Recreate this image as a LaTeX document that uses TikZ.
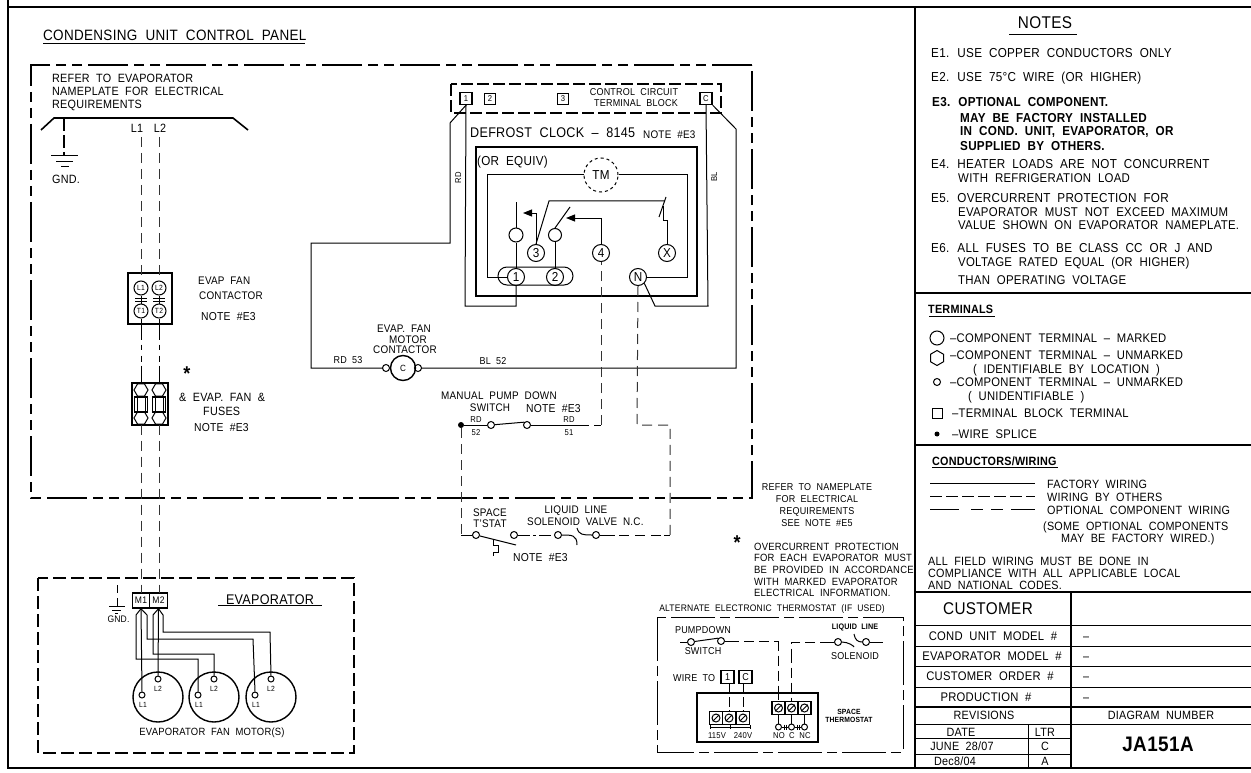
\documentclass[tikz,border=0pt]{standalone}
\usepackage{fontspec}
\setmainfont[FakeStretch=.9,LetterSpace=2,WordSpace=2]{Liberation Sans}
\usetikzlibrary{shapes.geometric,arrows.meta}
\tikzset{
  lbl/.style={inner sep=0pt,text height=8.6pt,text depth=0pt,font=\fontsize{12}{12}\selectfont},
  lblw/.style={lbl,anchor=west},
  tiny/.style={inner sep=0pt,text height=6pt,text depth=0pt,font=\fontsize{8.5}{9}\selectfont},
  note/.style={inner sep=0pt,anchor=west,text height=9.3pt,text depth=0pt,font=\fontsize{13}{13}\selectfont},
  big/.style={inner sep=0pt,text height=12pt,text depth=0pt,font=\fontsize{17}{17}\selectfont},
  frame/.style={line width=2.2pt},
  wire/.style={line width=1pt},
  field/.style={line width=1pt,black!80,dash pattern=on 10pt off 6pt},
  panel/.style={line width=2.4pt,dash pattern=on 40pt off 6pt on 10pt off 6pt on 10pt off 6pt},
  unit/.style={line width=2.2pt,dash pattern=on 13pt off 5pt},
  term/.style={circle,draw,line width=1pt,inner sep=0pt,minimum size=17pt,font=\fontsize{13}{13}\selectfont},
  stud/.style={circle,draw,line width=1pt,inner sep=0pt,minimum size=7pt},
  lug/.style={circle,draw,line width=1pt,inner sep=0pt,minimum size=14pt,font=\fontsize{7.5}{8}\selectfont},
  tbox/.style={rectangle,draw,line width=1.4pt,inner sep=0pt,minimum size=12pt,font=\fontsize{8.5}{9}\selectfont},
  hexa/.style={regular polygon,regular polygon sides=6,draw,line width=1pt,inner sep=0pt,minimum size=14pt},
  motor/.style={circle,draw,line width=1.4pt,inner sep=0pt,minimum size=50pt},
}
\begin{document}
\begin{tikzpicture}[x=1pt,y=-1pt]
  \useasboundingbox (0,0) rectangle (1251,773);

  % Sheet frame and title block rules.
  \draw[frame] (8,0) -- (8,768) -- (1251,768);
  \draw[frame] (8,7) -- (1251,7);
  \draw[frame] (915,7) -- (915,768);
  \draw[frame] (915,293) -- (1251,293);
  \draw[frame] (915,445) -- (1251,445);
  \draw[frame] (915,592) -- (1251,592);
  \draw[frame] (1071,592) -- (1071,768);
  \draw[frame] (915,707) -- (1251,707);
  \foreach \y in {625,646,666,687} {
    \draw[wire] (915,\y) -- (1251,\y);
  }
  \draw[wire] (915,724) -- (1251,724);
  \draw[wire] (915,738) -- (1071,738);
  \draw[wire] (915,754) -- (1071,754);
  \draw[wire] (1028,724) -- (1028,768);

  % Control panel boundary.
  \node[inner sep=0pt,anchor=west,text height=10.5pt,text depth=0pt,font=\fontsize{15}{15}\selectfont] (paneltitle) at (43,35) {CONDENSING UNIT CONTROL PANEL};
  \draw[wire] (43,44) -- (305,44);
  \draw[panel] (752,65) -- (31,65) -- (31,498) -- (752,498) -- cycle;
  \node[lblw] (refer1) at (52,78) {REFER TO EVAPORATOR};
  \node[lblw] (refer2) at (52,91) {NAMEPLATE FOR ELECTRICAL};
  \node[lblw] (refer3) at (52,104) {REQUIREMENTS};

  % Supply lines and ground.
  \draw[line width=1.6pt] (41,130) -- (54,118) -- (233,118) -- (248,130);
  \coordinate (supply) at (64,118);
  \coordinate (earth) at (64,156);
  \draw[line width=1.6pt,dash pattern=on 13pt off 4pt] (supply) -- (earth);
  \draw[wire] (51,156) -- (78,156);
  \draw[wire] (56,162) -- (73,162);
  \draw[wire] (61,167) -- (69,167);
  \node[lbl] (gnd) at (66,179) {GND.};
  \node[lbl] (l1) at (137,128) {L1};
  \node[lbl] (l2) at (160,128) {L2};
  \coordinate (feedA) at (141,137);
  \coordinate (feedB) at (159,137);

  % Fan contactor.
  \draw[line width=1.4pt] (128,273) rectangle (172,324);
  \node[lug] (cL1) at (141,288) {L1};
  \node[lug] (cL2) at (159,288) {L2};
  \node[lug] (cT1) at (141,311) {T1};
  \node[lug] (cT2) at (159,311) {T2};
  \draw[wire] (cL1) -- (cT1);
  \draw[wire] (cL2) -- (cT2);
  \foreach \x in {141,159} {
    \draw[wire] (\x-6,298) -- (\x+6,298);
    \draw[wire] (\x-6,301) -- (\x+6,301);
  }
  \draw[field] (feedA) -- (cL1.north);
  \draw[field] (feedB) -- (cL2.north);
  \node[lblw,font=\fontsize{11}{11}\selectfont] (ct1) at (198,280) {EVAP FAN};
  \node[lblw,font=\fontsize{11}{11}\selectfont] (ct2) at (199,295) {CONTACTOR};
  \node[lblw,font=\fontsize{11.5}{12}\selectfont] (ct3) at (201,316) {NOTE \#E3};

  % Fuse block.
  \draw[line width=1.6pt] (132,383) rectangle (168,425);
  \foreach \n/\x in {A/141,B/159} {
    \node[hexa] (hexT\n) at (\x,390) {};
    \node[hexa] (hexB\n) at (\x,418) {};
    \draw[line width=1.4pt] (\x-6.5,397) rectangle (\x+6.5,412);
    \draw[line width=.6pt] (\x-4,397) rectangle (\x+4,412);
    \draw[wire,dash pattern=on 21pt off 5pt on 5pt off 6pt on 6pt off 4pt on 30pt] (c\ifnum\x=141 T1\else T2\fi.south) -- (hexT\n.north);
  }
  \node[lbl,font=\fontsize{20}{20}\selectfont\bfseries] (starA) at (187,376) {*};
  \node[lblw] (fu1) at (179,397) {\& EVAP. FAN \&};
  \node[lblw] (fu2) at (203,411) {FUSES};
  \node[lblw,font=\fontsize{11.5}{12}\selectfont] (fu3) at (194,427) {NOTE \#E3};

  % Clock terminal block.
  \draw[line width=2pt,dash pattern=on 12pt off 4pt] (451,84) rectangle (721,113);
  \node[tbox] (t1) at (466,98.5) {1};
  \node[tbox,minimum size=11pt,line width=1pt] (t2) at (490,99) {2};
  \node[tbox,minimum size=11pt,line width=1pt] (t3) at (563,99) {3};
  \node[tbox] (tC) at (706,98.5) {C};
  \node[tiny,font=\fontsize{10}{10}\selectfont] (blk1) at (634,93) {CONTROL CIRCUIT};
  \node[tiny,font=\fontsize{10}{10}\selectfont] (blk2) at (636,104) {TERMINAL BLOCK};
  \node[inner sep=0pt,anchor=west,text height=9.5pt,text depth=0pt,font=\fontsize{14}{14}\selectfont] (clock) at (470,133) {DEFROST CLOCK -- 8145};
  \node[tiny,anchor=west,font=\fontsize{11}{11}\selectfont] (clocknote) at (643,136) {NOTE \#E3};
  \draw[line width=1.6pt] (476,147) rectangle (697,296);
  \node[note] (equiv) at (477,161) {(OR EQUIV)};

  % Timer and contacts inside the clock.
  \node[term,dashed,minimum size=34pt,font=\fontsize{13}{13}\selectfont] (tm) at (601,175) {TM};
  \node[term] (p1) at (516,277) {1};
  \node[term] (p2) at (555,277) {2};
  \node[term] (p3) at (536,253) {3};
  \node[term] (p4) at (601,253) {4};
  \node[term] (pX) at (667,253) {X};
  \node[term] (pN) at (638,277) {N};
  \node[stud,minimum size=14pt] (s1) at (516,235) {};
  \node[stud,minimum size=13pt] (s2) at (555,235) {};
  \draw[wire,rounded corners=9pt] (498,267) rectangle (573,285);
  \draw[wire] (tm.west) -- (487,175) |- (p1.west);
  \draw[wire] (tm.east) -- (687,175) |- (pN.east);
  \draw[wire] (p1.north) -- (s1.south);
  \draw[wire] (p2.north) -- (s2.south);
  \draw[wire] (s1.north) -- (516,202);
  \draw[wire] (s2.north) -- (570,207);
  \draw[wire,-{Triangle[length=9pt,width=7pt]}] (p3.north) -- (536,213) -- (523,213);
  \draw[wire] (p3.north) -- (549,201) -- (665,201);
  \draw[wire] (666,197) -- (659,217);
  \draw[wire] (663,206) -- (663,220) -- (667,220) -- (pX.north);
  \draw[wire,-{Triangle[length=9pt,width=7pt]}] (p4.north) |- (566,218);

  % Factory wiring to the terminal block.
  \draw[wire] (t1.south) -- (450,123) -- (450,243) -- (311,243) -- (311,368) -- (383,368);
  \draw[wire] (t1.south) -- (465,306) -- (516,306) -- (p1.south);
  \draw[wire] (tC.south) -- (708,306) -- (655,306) -- (pN.south east);
  \draw[wire] (tC.south east) -- (736,129) -- (736,368) -- (421,368);
  \node[tiny,rotate=90] (rdA) at (458,178) {RD};
  \node[tiny,rotate=90] (blA) at (714,177) {BL};

  % Motor contactor.
  \node[stud] (cmA) at (386,368) {};
  \node[stud] (cmB) at (418,368) {};
  \node[circle,draw,line width=1.4pt,inner sep=0pt,minimum size=25pt,font=\fontsize{9}{9}\selectfont] (cm) at (403,368) {C};
  \node[lbl,font=\fontsize{11}{11}\selectfont] (cm1) at (404,328) {EVAP. FAN};
  \node[lbl,font=\fontsize{11}{11}\selectfont] (cm2) at (408,339) {MOTOR};
  \node[lbl,font=\fontsize{11}{11}\selectfont] (cm3) at (405,349) {CONTACTOR};
  \node[tiny,font=\fontsize{10}{10}\selectfont] (rd53) at (348,360) {RD 53};
  \node[tiny,font=\fontsize{10}{10}\selectfont] (bl52) at (493,361) {BL 52};

  % Pump down switch and field wiring.
  \node[circle,fill,inner sep=0pt,minimum size=6pt] (splice) at (461,425) {};
  \node[stud] (sw1) at (491,425) {};
  \node[stud] (sw2) at (527,425) {};
  \coordinate (bend4) at (601,425);
  \coordinate (bendN) at (637,425);
  \coordinate (bendR) at (670,425);
  \draw[wire] (splice) -- (sw1);
  \draw[wire] (sw1) -- (sw2.north west);
  \draw[wire,dash pattern=on 58pt off 5pt on 10pt off 6pt] (sw2) -- (bend4);
  \draw[field] (bend4) -- (p4.south);
  \draw[field] (pN.south) -- (bendN) -- (bendR) -- (670,535);
  \node[lblw,font=\fontsize{11}{11}\selectfont] (mp1) at (441,395) {MANUAL PUMP DOWN};
  \node[lbl,font=\fontsize{11}{11}\selectfont] (mp2) at (490,407) {SWITCH};
  \node[lblw,font=\fontsize{11.5}{12}\selectfont] (mp3) at (526,408) {NOTE \#E3};
  \node[tiny] (rdB) at (476,419) {RD};
  \node[tiny] (rdC) at (569,419) {RD};
  \node[tiny] (n52) at (476,432) {52};
  \node[tiny] (n51) at (569,432) {51};

  % Space thermostat and liquid line solenoid.
  \coordinate (tsL) at (461,535);
  \node[stud] (ts1) at (476,535) {};
  \node[stud] (ts2) at (514,535) {};
  \node[stud] (ls1) at (558,535) {};
  \node[stud] (ls2) at (596,535) {};
  \draw[field] (splice) -- (tsL);
  \draw[wire] (tsL) -- (ts1);
  \draw[wire] (ts1) -- (516,545);
  \draw[wire] (493,540) -- (493,545) -- (498,545) -- (498,552) -- (493,552) -- (493,556);
  \draw[wire,dash pattern=on 12pt off 3pt on 3pt off 3pt] (ts2) -- (ls1);
  \draw[wire] (ls1) .. controls (572,535) and (577,535) .. (577,545);
  \draw[wire] (577,528) .. controls (579,535) and (583,535) .. (ls2);
  \draw[wire,dash pattern=on 15pt off 4pt on 10pt off 6pt on 10pt off 6pt on 10pt off 3pt on 10pt] (ls2) -- (670,535);
  \node[lbl,font=\fontsize{11}{11}\selectfont] (ts3) at (490,512) {SPACE};
  \node[lbl,font=\fontsize{11}{11}\selectfont] (ts4) at (490,523) {T'STAT};
  \node[lbl,font=\fontsize{11}{11}\selectfont] (ls3) at (576,509) {LIQUID LINE};
  \node[lblw,font=\fontsize{11}{11}\selectfont] (ls4) at (527,521) {SOLENOID VALVE N.C.};
  \node[lblw,font=\fontsize{11.5}{12}\selectfont] (ts5) at (513,557) {NOTE \#E3};

  % Nameplate and overcurrent notes.
  \foreach \i/\y/\t in {1/486/REFER TO NAMEPLATE,2/498/FOR ELECTRICAL,3/510/REQUIREMENTS,4/522/SEE NOTE \#E5} {
    \node[lbl,font=\fontsize{10}{10}\selectfont] (plate\i) at (817,\y) {\t};
  }
  \node[lbl,font=\fontsize{20}{20}\selectfont\bfseries] (starB) at (737,545) {*};
  \foreach \i/\y/\t in {1/546/OVERCURRENT PROTECTION,2/557/FOR EACH EVAPORATOR MUST,3/569/BE PROVIDED IN ACCORDANCE,4/581/WITH MARKED EVAPORATOR,5/592/ELECTRICAL INFORMATION.} {
    \node[lblw,font=\fontsize{10.5}{11}\selectfont] (over\i) at (754,\y) {\t};
  }

  % Evaporator.
  \draw[unit] (38,578) rectangle (354,753);
  \node[big,font=\fontsize{14}{14}\selectfont] (evap) at (270,598) {EVAPORATOR};
  \draw[wire] (218,605) -- (322,605);
  \node[tbox,minimum width=17pt,minimum height=15pt,font=\fontsize{9.5}{10}\selectfont] (m1) at (141,600.5) {M1};
  \node[tbox,minimum width=18pt,minimum height=15pt,font=\fontsize{9.5}{10}\selectfont] (m2) at (158.5,600.5) {M2};
  \foreach \n/\x in {A/141,B/159} {
    \draw[field] (hexB\n.south) -- (\x,593);
  }
  \coordinate (gndB) at (117,606);
  \draw[wire,dash pattern=on 8pt off 5pt] (117,585) -- (gndB);
  \draw[wire] (109,606) -- (125,606);
  \draw[wire] (112,610) -- (121,610);
  \draw[wire] (115,613) -- (118,613);
  \node[tiny,font=\fontsize{9.5}{10}\selectfont] (gndC) at (118.5,619) {GND.};
  \foreach \n/\x in {1/158,2/214,3/271} {
    \node[motor] (mot\n) at (\x,697) {};
    \node[stud,minimum size=6pt] (mot\n l1) at (\x-16,695) {};
    \node[stud,minimum size=6pt] (mot\n l2) at (\x,679) {};
    \node[tiny,font=\fontsize{7.5}{8}\selectfont] (lab\n a) at (\x-15,704) {L1};
    \node[tiny,font=\fontsize{7.5}{8}\selectfont] (lab\n b) at (\x,688) {L2};
  }
  \draw[wire] (m1.south) -- (136,615) -- (136,659) -- (198,659) -- (mot2l1.north);
  \draw[wire] (m1.south) -- (mot1l1.north);
  \draw[wire] (m1.south) -- (147,615) -- (147,639) -- (253,639) -- (mot3l1.north);
  \draw[wire] (m2.south) -- (153,615) -- (153,654) -- (214,654) -- (mot2l2.north);
  \draw[wire] (m2.south) -- (mot1l2.north);
  \draw[wire] (m2.south) -- (163,615) -- (163,632) -- (270,632) -- (mot3l2.north);
  \node[lbl,font=\fontsize{10.5}{11}\selectfont] (fans) at (212,731) {EVAPORATOR FAN MOTOR(S)};

  % Alternate thermostat.
  \node[lbl,font=\fontsize{9.5}{10}\selectfont] (alt) at (772,607) {ALTERNATE ELECTRONIC THERMOSTAT (IF USED)};
  \draw[wire,dash pattern=on 44pt off 5pt on 10pt off 5pt] (657,617) rectangle (903,752);
  \node[lbl,font=\fontsize{10}{10}\selectfont] (pd1) at (703,629) {PUMPDOWN};
  \node[lbl,font=\fontsize{10}{10}\selectfont] (pd2) at (703,650) {SWITCH};
  \node[stud] (pdA) at (691,642) {};
  \node[stud] (pdB) at (721,641) {};
  \node[stud] (lqA) at (838,642) {};
  \node[stud] (lqB) at (866,642) {};
  \coordinate (pdC) at (680,642);
  \coordinate (lqC) at (883,642);
  \draw[wire] (pdC) -- (pdA);
  \draw[wire] (pdA) -- (pdB.north west);
  \draw[wire] (lqB) -- (lqC);
  \draw[wire] (lqA) .. controls (848,642) and (854,646) .. (854,647);
  \draw[wire] (854,634) .. controls (855,640) and (858,642) .. (lqB);
  \node[tiny,font=\fontsize{8}{8}\selectfont\bfseries] (lq1) at (855,626) {LIQUID LINE};
  \node[lbl,font=\fontsize{10}{10}\selectfont] (lq2) at (855,655) {SOLENOID};
  \node[lblw,font=\fontsize{10}{10}\selectfont] (wireto) at (673,677) {WIRE TO};
  \node[tbox,minimum size=13pt,font=\fontsize{10}{10}\selectfont] (bx1) at (727.5,677) {1};
  \node[tbox,minimum size=13pt,font=\fontsize{10}{10}\selectfont] (bxC) at (745.5,677) {C};
  \draw[line width=2pt] (697,693) rectangle (818,742);
  \foreach \n/\x in {1/716,2/729,3/743} {
    \node[tbox,minimum size=13pt] (lo\n) at (\x,718) {};
    \node[circle,draw,line width=1pt,inner sep=0pt,minimum size=8pt] (los\n) at (\x,718) {};
    \draw[wire] (los\n.south west) -- (los\n.north east);
  }
  \foreach \n/\x in {1/778.5,2/791.5,3/804.5} {
    \node[tbox,minimum size=13pt] (up\n) at (\x,708) {};
    \node[circle,draw,line width=1pt,inner sep=0pt,minimum size=8pt] (ups\n) at (\x,708) {};
    \draw[wire] (ups\n.south west) -- (ups\n.north east);
    \node[stud,minimum size=6pt] (no\n) at (\x,727) {};
    \draw[wire] (up\n.south) -- (no\n.north);
  }
  \draw[wire] (no1) -- (no2);
  \draw[wire] (no2) -- (no3);
  \foreach \x in {784,786,797,799} {
    \draw[wire] (\x,724.5) -- (\x,729.5);
  }
  \draw[wire] (710,727) -- (750,727);
  \foreach \x in {710,730,750} {
    \draw[wire] (\x,725) -- (\x,729);
  }
  \draw[wire,dash pattern=on 10pt off 3pt] (bx1.south -| lo2.north) -- (lo2.north);
  \draw[wire,dash pattern=on 10pt off 3pt] (bxC.south -| lo3.north) -- (lo3.north);
  \draw[wire,dash pattern=on 14pt off 5pt on 10pt off 5pt on 10pt off 5pt] (pdB) -| (up1.north);
  \draw[wire,dash pattern=on 14pt off 5pt on 10pt off 5pt on 10pt off 5pt] (lqA) -| (up2.north);
  \foreach \n/\x/\t in {a/717/115V,b/743/240V,c/779/NO,d/792/C,e/805/NC} {
    \node[tiny,font=\fontsize{8.5}{9}\selectfont] (vt\n) at (\x,735) {\t};
  }
  \node[tiny,font=\fontsize{7.5}{8}\selectfont\bfseries] (st1) at (849,711) {SPACE};
  \node[tiny,font=\fontsize{7.5}{8}\selectfont\bfseries] (st2) at (849,719) {THERMOSTAT};

  % Notes.
  \node[big] (notes) at (1045,23) {NOTES};
  \draw[wire] (1009,35) -- (1077,35);
  \foreach \i/\y/\t in {1/53/E1. USE COPPER CONDUCTORS ONLY,2/77/E2. USE 75°C WIRE (OR HIGHER),4/164/E4. HEATER LOADS ARE NOT CONCURRENT,5/198/E5. OVERCURRENT PROTECTION FOR,6/248/E6. ALL FUSES TO BE CLASS CC OR J AND} {
    \node[note] (note\i) at (931,\y) {\t};
  }
  \foreach \i/\y/\t in {a/178/WITH REFRIGERATION LOAD,b/212/EVAPORATOR MUST NOT EXCEED MAXIMUM,c/225/VALUE SHOWN ON EVAPORATOR NAMEPLATE.,d/262/VOLTAGE RATED EQUAL (OR HIGHER),e/280/THAN OPERATING VOLTAGE} {
    \node[note,font=\fontsize{12.7}{13}\selectfont] (more\i) at (958,\y) {\t};
  }
  \node[note,font=\fontsize{13}{13}\selectfont\bfseries] (note3) at (932,102) {E3. OPTIONAL COMPONENT.};
  \foreach \i/\y/\t in {f/118/MAY BE FACTORY INSTALLED,g/131/{IN COND. UNIT, EVAPORATOR, OR},h/146/SUPPLIED BY OTHERS.} {
    \node[note,font=\fontsize{13}{13}\selectfont\bfseries] (more\i) at (960,\y) {\t};
  }

  % Terminal legend.
  \node[lblw,font=\fontsize{12}{12}\selectfont\bfseries] (termtitle) at (928,309) {TERMINALS};
  \draw[wire] (929,316) -- (995,316);
  \node[circle,draw,line width=1pt,inner sep=0pt,minimum size=14pt] (symA) at (937,338) {};
  \node[regular polygon,regular polygon sides=6,shape border rotate=30,draw,line width=1pt,inner sep=0pt,minimum size=15pt] (symB) at (937,358) {};
  \node[stud] (symC) at (937,382) {};
  \node[rectangle,draw,line width=1pt,inner sep=0pt,minimum size=10pt] (symD) at (937,413) {};
  \node[circle,fill,inner sep=0pt,minimum size=5pt] (symE) at (937,434) {};
  \foreach \i/\x/\y/\t in {1/950/338/--COMPONENT TERMINAL -- MARKED,2/950/355/--COMPONENT TERMINAL -- UNMARKED,3/973/369/( IDENTIFIABLE BY LOCATION ),4/950/382/--COMPONENT TERMINAL -- UNMARKED,5/968/396/( UNIDENTIFIABLE ),6/952/413/--TERMINAL BLOCK TERMINAL,7/952/434/--WIRE SPLICE} {
    \node[lblw,font=\fontsize{12.5}{13}\selectfont] (leg\i) at (\x,\y) {\t};
  }

  % Conductor legend.
  \node[lblw,font=\fontsize{12}{12}\selectfont\bfseries] (condtitle) at (932,461) {CONDUCTORS/WIRING};
  \draw[wire] (932,467) -- (1058,467);
  \draw[wire] (930,483) -- (1035,483);
  \draw[wire,dash pattern=on 12pt off 4pt] (930,496) -- (1035,496);
  \draw[wire,dash pattern=on 29pt off 12pt on 12pt off 8pt on 12pt off 8pt on 30pt] (930,509) -- (1035,509);
  \foreach \i/\x/\y/\t in {1/1047/484/FACTORY WIRING,2/1047/497/WIRING BY OTHERS,3/1047/510/OPTIONAL COMPONENT WIRING,4/1043/526/(SOME OPTIONAL COMPONENTS,5/1061/538/MAY BE FACTORY WIRED.),6/928/561/ALL FIELD WIRING MUST BE DONE IN,7/928/573/COMPLIANCE WITH ALL APPLICABLE LOCAL,8/928/585/AND NATIONAL CODES.} {
    \node[lblw] (cond\i) at (\x,\y) {\t};
  }

  % Title block.
  \node[big] (customer) at (988,608) {CUSTOMER};
  \foreach \i/\x/\y/\t in {1/993/636/COND UNIT MODEL \#,2/992/656/EVAPORATOR MODEL \#,3/990/676/CUSTOMER ORDER \#,4/986/697/PRODUCTION \#} {
    \node[lbl,font=\fontsize{12.5}{13}\selectfont] (row\i) at (\x,\y) {\t};
    \node[lbl] (dash\i) at (1086,\y) {--};
  }
  \node[lbl] (rev) at (984,715) {REVISIONS};
  \node[lbl] (num) at (1161,715) {DIAGRAM NUMBER};
  \node[lbl] (date) at (961,732) {DATE};
  \node[lbl] (ltr) at (1045,732) {LTR};
  \node[lbl] (date1) at (962,746) {JUNE 28/07};
  \node[lbl] (ltr1) at (1045,746) {C};
  \node[lbl] (date2) at (955,761) {Dec8/04};
  \node[lbl] (ltr2) at (1045,761) {A};
  \node[big,font=\fontsize{21}{21}\selectfont\bfseries] (drawing) at (1158,745) {JA151A};
\end{tikzpicture}
\end{document}
